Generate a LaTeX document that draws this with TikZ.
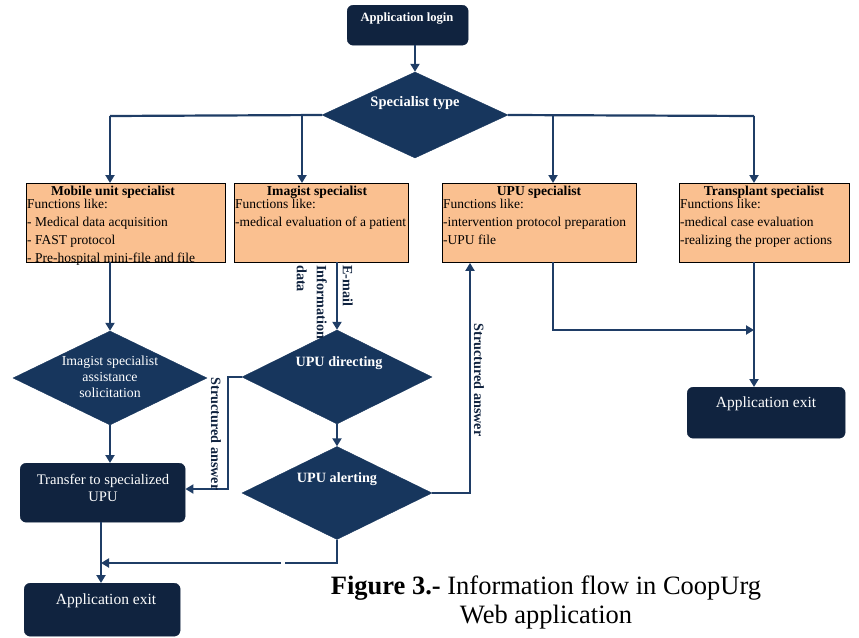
\documentclass[tikz,border=0pt]{standalone}
\usepackage{fontspec}
\setmainfont{Liberation Serif}
\usetikzlibrary{shapes.geometric,arrows.meta}
\definecolor{navy}{HTML}{10233F}
\definecolor{dnavy}{HTML}{17365D}
\definecolor{linec}{HTML}{1F3D66}
\definecolor{orng}{HTML}{FAC090}
\tikzset{
  darkbox/.style={draw=navy, fill=navy, rounded corners=6pt, inner sep=0pt, anchor=north west},
  obox/.style={draw=black, line width=0.9pt, fill=orng, inner sep=0pt, anchor=north west},
  dia/.style={diamond, draw=dnavy, fill=dnavy, inner sep=0pt},
  wtxt/.style={text=white, font=\fontsize{15.5}{17}\selectfont, align=center, inner sep=0pt},
  btxt/.style={text=black, font=\fontsize{13.5}{18}\selectfont, align=left, inner sep=0pt, anchor=north west},
  ttl/.style={text=black, font=\bfseries\fontsize{13.6}{15}\selectfont, inner sep=0pt, anchor=north},
  flow/.style={draw=linec, line width=2.2pt, -{Triangle[length=8pt,width=9pt]}},
  plain/.style={draw=linec, line width=2.2pt},
  rlab/.style={rotate=-90, text=navy, font=\bfseries\fontsize{14.2}{15}\selectfont, inner sep=0pt, align=left}
}
\begin{document}
\begin{tikzpicture}[x=1pt,y=-1pt]
\useasboundingbox (0,0) rectangle (859,637);
% top
\node[darkbox, minimum width=121, minimum height=40] (login) at (347,5) {};
\node[wtxt, font=\bfseries\fontsize{12.6}{14}\selectfont] (logint) at (407,19) {Application login};
\node[dia, minimum width=186, minimum height=86] (stype) at (415,115) {};
\node[wtxt, font=\bfseries\fontsize{14.5}{16}\selectfont] (stypet) at (415,103) {Specialist type};
\draw[flow] (login.south -| stype.north) -- (stype.north);
% boxes
\node[obox, minimum width=199, minimum height=79] (mob) at (26,183) {};
\node[obox, minimum width=174, minimum height=79] (img) at (234,183) {};
\node[obox, minimum width=194, minimum height=79] (upu) at (442,183) {};
\node[obox, minimum width=170, minimum height=79] (trn) at (679,183) {};
\node[ttl] (mobt) at (113,186) {Mobile unit specialist};
\node[btxt] (mobb) at (27,199) {Functions like:\\- Medical data acquisition\\- FAST protocol\\- Pre-hospital mini-file and file};
\node[ttl] (imgt) at (317,186) {Imagist specialist};
\node[btxt] (imgb) at (235,199) {Functions like:\\-medical evaluation of a patient};
\node[ttl] (upt) at (539,186) {UPU specialist};
\node[btxt] (upb) at (443,199) {Functions like:\\-intervention protocol preparation\\-UPU file};
\node[ttl] (trt) at (764,186) {Transplant specialist};
\node[btxt] (trb) at (680,199) {Functions like:\\-medical case evaluation\\-realizing the proper actions};
% branches
\coordinate (bl) at (110,116);
\coordinate (br) at (754,116);
\draw[plain] (stype.west) -- (bl);
\draw[flow] (bl) -- (bl |- mob.north);
\draw[flow] (302,116) -- (302,183);
\draw[plain] (stype.east) -- (br);
\draw[flow] (br) -- (br |- trn.north);
\draw[flow] (553,116) -- (553,183);
% left column
\node[dia, minimum width=194, minimum height=94] (ias) at (110,378) {};
\node[wtxt, font=\fontsize{13.8}{16}\selectfont] (iast) at (110,377) {Imagist specialist\\assistance\\solicitation};
\draw[flow] (110,262) -- (ias.north);
\node[darkbox, minimum width=165, minimum height=59] (tr) at (20,463) {};
\node[wtxt, font=\fontsize{14.6}{17}\selectfont] (trt2) at (103,488) {Transfer to specialized\\UPU};
\draw[flow] (ias.south) -- (110,463);
\node[darkbox, minimum width=156, minimum height=53] (exl) at (24,583) {};
\node[wtxt] (exlt) at (106,601) {Application exit};
\draw[flow] (101,522) -- (101,583);
% middle column
\node[dia, minimum width=190, minimum height=94] (dir) at (337,377) {};
\node[wtxt, font=\bfseries\fontsize{14.2}{16}\selectfont] (dirt) at (339,363) {UPU directing};
\draw[flow] (337,262) -- (dir.north);
\node[rlab, anchor=north west] (email) at (353,265) {E-mail};
\node[rlab, anchor=north west, font=\bfseries\fontsize{14.2}{20}\selectfont] (info) at (327,265) {Information\\data};
\node[dia, minimum width=190, minimum height=93] (alt) at (337,493) {};
\node[wtxt, font=\bfseries\fontsize{14.2}{16}\selectfont] (altt) at (337,479) {UPU alerting};
\draw[flow] (dir.south) -- (alt.north);
% structured answers
\coordinate (sa1) at (228,377);
\coordinate (sa2) at (228,489);
\draw[flow] (dir.west) -- (sa1) -- (sa2) -- (sa2 -| tr.east);
\node[rlab] (sal) at (216,434) {Structured answer};
\coordinate (sr1) at (470,493);
\draw[flow] (alt.east) -- (sr1) -- (sr1 |- upu.south);
\node[rlab] (sar) at (479,380) {Structured answer};
% alert to exit
\coordinate (ab) at (337,563);
\draw[plain] (alt.south) -- (ab) -- (285,563);
\draw[flow] (281,563) -- (101,563);
% right
\node[darkbox, minimum width=158, minimum height=51] (exr) at (687,387) {};
\node[wtxt] (exrt) at (766,404) {Application exit};
\draw[flow] (754,262) -- (754,387);
\draw[flow] (553,262) -- (553,330) -- (754,330);
% caption
\node[inner sep=0pt, align=center, font=\fontsize{26.5}{29}\selectfont] (cap) at (546,602) {\textbf{Figure 3.-} Information flow in CoopUrg\\Web application};
\end{tikzpicture}
\end{document}
